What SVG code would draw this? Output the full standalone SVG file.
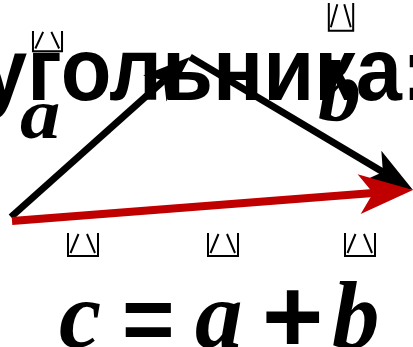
<svg xmlns="http://www.w3.org/2000/svg" width="413" height="347" viewBox="0 0 413 347">
<style>
.big{font-family:"Liberation Sans",Arial,sans-serif;font-weight:bold;fill:#000}
.var{font-family:"Liberation Serif","Times New Roman",serif;font-weight:bold;font-style:italic;fill:#000}
.op{font-family:"Liberation Sans",Arial,sans-serif;font-weight:bold;fill:#000}
.acc{fill:none;stroke:#000;stroke-width:2}
</style>
<defs>
<marker id="ahK" markerUnits="strokeWidth" orient="auto" refX="0" refY="0" markerWidth="8" markerHeight="8" overflow="visible">
<path d="M5,0 L-1.75,-2.5 L0,0 L-1.75,2.5 Z" fill="#000"/>
</marker>
<marker id="ahR" markerUnits="strokeWidth" orient="auto" refX="0" refY="0" markerWidth="8" markerHeight="8" overflow="visible">
<path d="M5,0 L-1.75,-2.5 L0,0 L-1.75,2.5 Z" fill="#C00000"/>
</marker>
<symbol id="hat" viewBox="0 0 32 24" preserveAspectRatio="none" overflow="visible">
<path class="acc" vector-effect="non-scaling-stroke" d="M1,0 V23 H31 V0 M3.5,20 L11.5,1 M20,1 L28,20"/>
</symbol>
</defs>
<g id="title"><text class="big" x="-19" y="100" font-size="83" transform="translate(0,100) scale(1,1.08) translate(0,-100)">угольника:</text></g>
<g id="connectors">
<line x1="11" y1="217" x2="163.9" y2="80.3" stroke="#000" stroke-width="7" marker-end="url(#ahK)"/>
<line x1="190" y1="57" x2="382.9" y2="172.1" stroke="#000" stroke-width="7" marker-end="url(#ahK)"/>
<line x1="12" y1="221" x2="373.1" y2="193.1" stroke="#C00000" stroke-width="8" marker-end="url(#ahR)"/>
</g>
<g id="label-a">
<use href="#hat" x="32" y="31" width="31" height="21"/>
<text class="var" x="20" y="138" font-size="72" transform="translate(20,0) scale(1.12,1) translate(-20,0)">a</text>
</g>
<g id="label-b">
<use href="#hat" x="328" y="3" width="26" height="29"/>
<text class="var" x="318" y="120" font-size="86">b</text>
</g>
<g id="equation">
<use href="#hat" x="67" y="233" width="32" height="24"/>
<use href="#hat" x="207" y="233" width="32" height="24"/>
<use href="#hat" x="344" y="233" width="32" height="24"/>
<text class="var" x="59" y="347" font-size="95">c</text>
<text class="op" x="122" y="350" font-size="90">=</text>
<text class="var" x="195" y="347" font-size="95">a</text>
<text class="op" x="262" y="352" font-size="105">+</text>
<text class="var" x="332" y="347" font-size="95">b</text>
</g>
</svg>
